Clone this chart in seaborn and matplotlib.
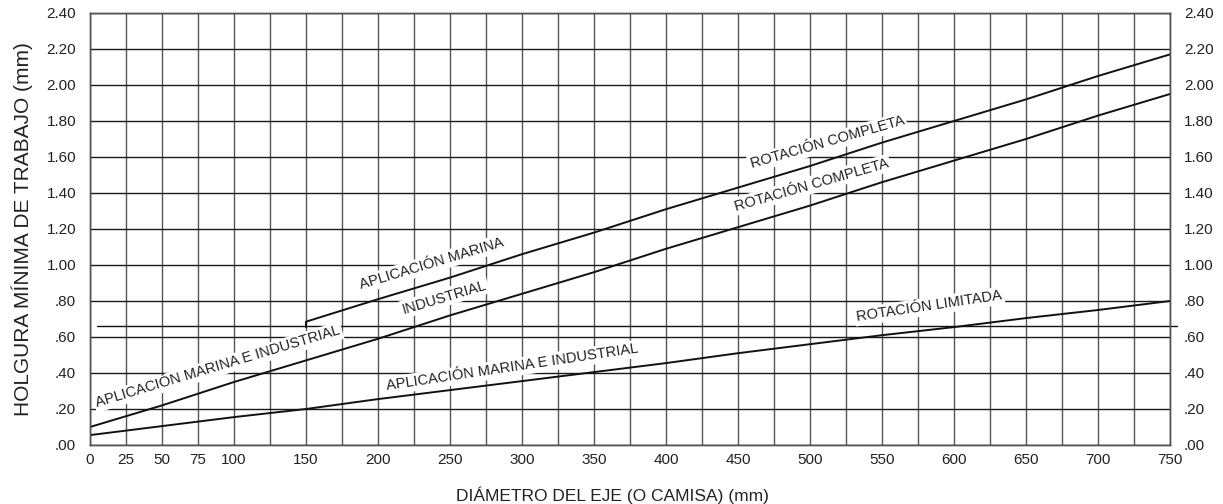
import matplotlib
matplotlib.use("Agg")
import matplotlib.pyplot as plt
import seaborn as sns
import numpy as np

# ---- data ----
diam_lower = [0, 50, 100, 150, 200, 250, 300, 350, 400, 450, 500, 550, 600, 650, 700, 750]
clear_lower = [0.055, 0.105, 0.155, 0.20, 0.255, 0.305, 0.355, 0.405, 0.455, 0.51, 0.56, 0.61, 0.655, 0.705, 0.75, 0.80]

diam_ind = [0, 50, 100, 150, 200, 250, 300, 350, 400, 450, 500, 550, 600, 650, 700, 750]
clear_ind = [0.10, 0.22, 0.35, 0.47, 0.59, 0.72, 0.84, 0.96, 1.09, 1.21, 1.33, 1.46, 1.58, 1.70, 1.83, 1.95]

diam_mar = [150, 150, 200, 250, 300, 350, 400, 450, 500, 550, 600, 650, 700, 750]
clear_mar = [0.655, 0.685, 0.81, 0.93, 1.06, 1.18, 1.31, 1.43, 1.55, 1.68, 1.80, 1.92, 2.05, 2.17]

ref_line_y = 0.66
ref_line_x = [5, 755]

x_ticks = [0, 25, 50, 75, 100, 150, 200, 250, 300, 350, 400, 450, 500, 550, 600, 650, 700, 750]
y_ticks = [0.0, 0.2, 0.4, 0.6, 0.8, 1.0, 1.2, 1.4, 1.6, 1.8, 2.0, 2.2, 2.4]
y_tick_labels = [".00", ".20", ".40", ".60", ".80", "1.00", "1.20", "1.40", "1.60", "1.80", "2.00", "2.20", "2.40"]

labels = [
    ("APLICACIÓN MARINA E INDUSTRIAL", 89, 0.433, 16.7),
    ("APLICACIÓN MARINA", 237, 1.006, 16.7),
    ("INDUSTRIAL", 246, 0.82, 16.7),
    ("ROTACIÓN COMPLETA", 512, 1.68, 16.0),
    ("ROTACIÓN COMPLETA", 501, 1.445, 16.0),
    ("APLICACIÓN MARINA E INDUSTRIAL", 293, 0.43, 8.5),
    ("ROTACIÓN LIMITADA", 583, 0.77, 8.5),
]

x_label = "DIÁMETRO DEL EJE (O CAMISA) (mm)"
y_label = "HOLGURA MÍNIMA DE TRABAJO (mm)"

# ---- style ----
sns.set_style("white")
plt.rcParams['font.family'] = ['Liberation Sans', 'DejaVu Sans']
txt = '#222222'

fig = plt.figure(figsize=(12.23, 5.04), dpi=100)
ax = fig.add_axes([90/1223, 1 - 445/504, 1080/1223, 432/504])

# grid
for xv in range(0, 751, 25):
    ax.axvline(xv, color='#555555', lw=1.0, zorder=1)
for yv in y_ticks:
    ax.axhline(yv, color='#1a1a1a', lw=1.0, zorder=1)

ax.plot(ref_line_x, [ref_line_y, ref_line_y], color='#111111', lw=1.0, clip_on=False, zorder=1)

sns.lineplot(x=diam_lower, y=clear_lower, color='#111111', lw=1.4, ax=ax, zorder=3)
sns.lineplot(x=diam_ind, y=clear_ind, color='#111111', lw=1.4, ax=ax, zorder=3)
sns.lineplot(x=diam_mar, y=clear_mar, color='#111111', lw=1.4, ax=ax, zorder=3,
             estimator=None, sort=False)

for t, xx, yy, rot in labels:
    ax.text(xx, yy, t, rotation=rot, ha='center', va='center', fontsize=10.5, color=txt,
            rotation_mode='anchor', zorder=4,
            bbox=dict(facecolor='white', edgecolor='none', pad=1.5))

ax.set_xlim(0, 750)
ax.set_ylim(0, 2.4)
ax.set_xticks(x_ticks)
ax.set_xticklabels([str(v) for v in x_ticks], fontsize=11, color=txt)
ax.set_yticks(y_ticks)
ax.set_yticklabels(y_tick_labels, fontsize=11, color=txt)
ax.tick_params(axis='both', length=0)
ax.tick_params(axis='x', pad=6)
ax.tick_params(axis='y', pad=10)

ax2 = ax.twinx()
ax2.set_ylim(0, 2.4)
ax2.set_yticks(y_ticks)
ax2.set_yticklabels(y_tick_labels, fontsize=11, color=txt)
ax2.tick_params(axis='y', length=0, pad=10)

for a in (ax, ax2):
    for s in a.spines.values():
        s.set_color('#555555')
        s.set_linewidth(1.0)

ax.set_xlabel(x_label, fontsize=12.5, color=txt)
ax.xaxis.set_label_coords(0.484, -0.095)
ax.set_ylabel(y_label, fontsize=15, color=txt, labelpad=10)

fig.savefig("out.png", dpi=100)
